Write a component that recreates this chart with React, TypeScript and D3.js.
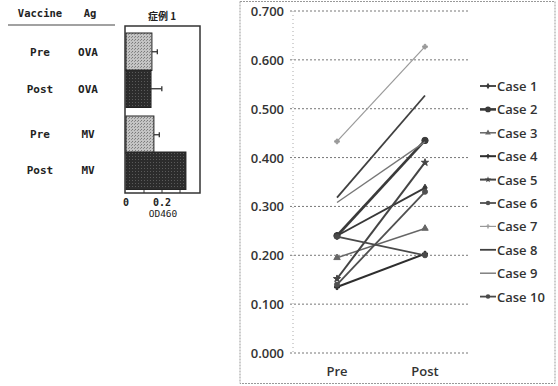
import * as d3 from 'd3';

// left panel: OD460 bars for 症例 1
const barRows = [
  { vaccine: 'Pre', ag: 'OVA' },
  { vaccine: 'Post', ag: 'OVA' },
  { vaccine: 'Pre', ag: 'MV' },
  { vaccine: 'Post', ag: 'MV' },
];
const barValues = [0.144, 0.139, 0.155, 0.333];
const barErrors = [0.03, 0.06, 0.03, 0];
const barTicks = [0, 0.2];

// right panel: paired Pre/Post values per case
const timepoints = ['Pre', 'Post'];
const caseNames = ['Case 1', 'Case 2', 'Case 3', 'Case 4', 'Case 5', 'Case 6', 'Case 7', 'Case 8', 'Case 9', 'Case 10'];
const preValues = [0.24, 0.24, 0.195, 0.135, 0.152, 0.14, 0.433, 0.318, 0.308, 0.238];
const postValues = [0.338, 0.435, 0.255, 0.203, 0.39, 0.33, 0.627, 0.527, 0.432, 0.2];
const yTicks = [0, 0.1, 0.2, 0.3, 0.4, 0.5, 0.6, 0.7];

const caseStyles = [
  { color: '#383838', width: 1.8, symbol: d3.symbolDiamond, size: 16 },
  { color: '#3a3a3a', width: 2.6, symbol: d3.symbolCircle, size: 32 },
  { color: '#666666', width: 1.5, symbol: d3.symbolTriangle, size: 18 },
  { color: '#2e2e2e', width: 2.0, symbol: d3.symbolCross, size: 14 },
  { color: '#444444', width: 2.0, symbol: d3.symbolStar, size: 16 },
  { color: '#505050', width: 1.8, symbol: d3.symbolCircle, size: 20 },
  { color: '#999999', width: 1.2, symbol: d3.symbolCross, size: 12 },
  { color: '#404040', width: 1.8, symbol: null, size: 0 },
  { color: '#777777', width: 1.4, symbol: null, size: 0 },
  { color: '#4a4a4a', width: 1.8, symbol: d3.symbolCircle, size: 20 },
];

const mono = '"DejaVu Sans Mono", "Liberation Mono", monospace';
const sans = '"Open Sans", "Noto Sans", sans-serif';

const BarPanel = () => {
  const x = d3.scaleLinear().domain([0, 0.4]).range([126, 198]);
  const rowY = [33, 70, 116, 152];
  const rowH = 37.5;
  const textY = [56, 93, 138, 174];

  return (
    <g>
      <defs>
        <pattern id="lightDots" width="3" height="3" patternUnits="userSpaceOnUse">
          <rect width="3" height="3" fill="#c4c4c4" />
          <rect width="1" height="1" fill="#7a7a7a" />
          <rect x="2" y="1" width="1" height="1" fill="#8e8e8e" />
        </pattern>
        <pattern id="darkDots" width="3" height="3" patternUnits="userSpaceOnUse">
          <rect width="3" height="3" fill="#2c2c2c" />
          <rect width="1" height="1" fill="#5a5a5a" />
        </pattern>
      </defs>
      <text x={40} y={17} textAnchor="middle" fontFamily={mono} fontWeight="bold" fontSize={10.5} fill="#222">Vaccine</text>
      <text x={90} y={17} textAnchor="middle" fontFamily={mono} fontWeight="bold" fontSize={10.5} fill="#222">Ag</text>
      <line x1={8} x2={115} y1={25} y2={25} stroke="#444" strokeWidth={1.2} />
      {barRows.map((r, i) => (
        <g key={i}>
          <text x={40} y={textY[i]} textAnchor="middle" fontFamily={mono} fontWeight="bold" fontSize={11} fill="#222">{r.vaccine}</text>
          <text x={88} y={textY[i]} textAnchor="middle" fontFamily={mono} fontWeight="bold" fontSize={11} fill="#222">{r.ag}</text>
        </g>
      ))}
      <text x={162} y={20} textAnchor="middle" fontFamily='"Noto Sans CJK JP", sans-serif' fontWeight="bold" fontSize={10} fill="#222">症例 1</text>
      <rect x={125} y={26} width={75} height={167} fill="none" stroke="#333" strokeWidth={1.5} />
      {barValues.map((v, i) => (
        <g key={i}>
          <rect
            x={x(0)}
            y={rowY[i]}
            width={x(v) - x(0)}
            height={rowH}
            fill={i % 2 === 0 ? 'url(#lightDots)' : 'url(#darkDots)'}
            stroke="#222"
            strokeWidth={1}
          />
          {barErrors[i] > 0 && (
            <g stroke="#333" strokeWidth={1.3}>
              <line x1={x(v)} x2={x(v + barErrors[i])} y1={rowY[i] + rowH / 2} y2={rowY[i] + rowH / 2} />
              <line x1={x(v + barErrors[i])} x2={x(v + barErrors[i])} y1={rowY[i] + rowH / 2 - 2.5} y2={rowY[i] + rowH / 2 + 2.5} />
            </g>
          )}
        </g>
      ))}
      {[0.1, 0.2, 0.3].map((t) => (
        <line key={t} x1={x(t)} x2={x(t)} y1={193} y2={190} stroke="#333" />
      ))}
      {barTicks.map((t) => (
        <text key={t} x={x(t)} y={206} textAnchor="middle" fontFamily={mono} fontWeight="bold" fontSize={10} fill="#222">
          {t === 0 ? '0' : t.toFixed(1)}
        </text>
      ))}
      <text x={163} y={217} textAnchor="middle" fontFamily={mono} fontSize={9.5} fill="#222">OD460</text>
    </g>
  );
};

const LinePanel = () => {
  const y = d3.scaleLinear().domain([0, 0.7]).range([353, 11]);
  const x = d3.scalePoint<string>().domain(timepoints).range([293, 469]).padding(0.5);
  const line = d3.line<[string, number]>().x((d) => x(d[0]) as number).y((d) => y(d[1]));

  return (
    <g>
      <rect x={240} y={1.5} width={315} height={382} fill="none" stroke="#999" strokeDasharray="2,1" strokeWidth={1} />
      {yTicks.map((t) => (
        <g key={t}>
          <line x1={290} x2={468} y1={y(t)} y2={y(t)} stroke="#777" strokeWidth={1} strokeDasharray="2,2" />
          <text x={284} y={y(t) + 5} textAnchor="end" fontFamily={sans} fontWeight="600" fontSize={13} fill="#333">
            {t.toFixed(3)}
          </text>
        </g>
      ))}
      <line x1={293} x2={293} y1={y(0.7)} y2={y(0)} stroke="#aaa" strokeDasharray="1,3" />
      {timepoints.map((tp) => (
        <text key={tp} x={x(tp)} y={376} textAnchor="middle" fontFamily={sans} fontWeight="600" fontSize={13} fill="#333">{tp}</text>
      ))}
      {caseNames.map((c, i) => {
        const st = caseStyles[i];
        const pts: [string, number][] = [['Pre', preValues[i]], ['Post', postValues[i]]];
        const sym = st.symbol ? d3.symbol().type(st.symbol).size(st.size)() : null;
        return (
          <g key={c}>
            <path d={line(pts) || ''} fill="none" stroke={st.color} strokeWidth={st.width} />
            {sym && pts.map((p, j) => (
              <path key={j} d={sym} transform={`translate(${x(p[0])},${y(p[1])})`} fill={st.color} stroke={st.color} />
            ))}
          </g>
        );
      })}
      {caseNames.map((c, i) => {
        const st = caseStyles[i];
        const ly = 86 + i * 23.4;
        const sym = st.symbol ? d3.symbol().type(st.symbol).size(st.size * 0.8)() : null;
        return (
          <g key={c}>
            <line x1={480} x2={496} y1={ly} y2={ly} stroke={st.color} strokeWidth={st.width} />
            {sym && <path d={sym} transform={`translate(488,${ly})`} fill={st.color} />}
            <text x={497} y={ly + 5} fontFamily={sans} fontWeight="600" fontSize={13} fill="#333">{c}</text>
          </g>
        );
      })}
    </g>
  );
};

export default function App() {
  return (
    <svg width={558} height={386} style={{ position: 'absolute', left: 0, top: 0, background: '#fff' }}>
      <BarPanel />
      <LinePanel />
    </svg>
  );
}
